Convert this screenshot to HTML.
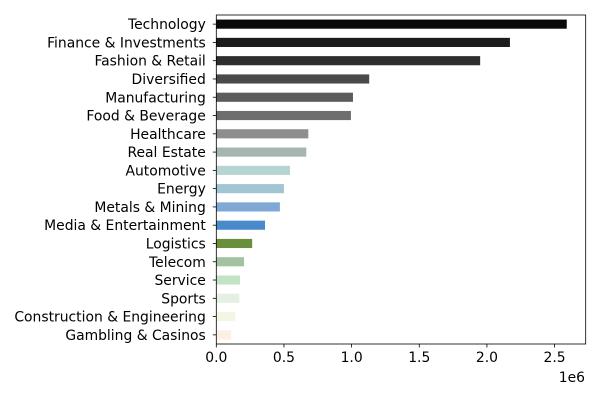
<!DOCTYPE html>
<html><head><meta charset="utf-8"><style>
body{margin:0;background:#fff;}
svg text{font-family:"DejaVu Sans","Liberation Sans",sans-serif;font-size:13.9px;fill:#000;}
</style></head><body>
<svg id="chart" width="600" height="400"></svg>
<script>
const categories=["Technology","Finance & Investments","Fashion & Retail","Diversified","Manufacturing","Food & Beverage","Healthcare","Real Estate","Automotive","Energy","Metals & Mining","Media & Entertainment","Logistics","Telecom","Service","Sports","Construction & Engineering","Gambling & Casinos"];
const values=[2590000,2170000,1950000,1130000,1010000,995000,680000,665000,545000,500000,470000,360000,265000,205000,175000,170000,140000,110000];
const colors=["#0a0a0a","#1c1c1c","#2e2e2e","#4a4a4a","#5c5c5c","#6e6e6e","#8e8e8e","#a6b5b0","#b5d4d2","#a2c5d4","#7ea8d6","#4a8acb","#6a8f3a","#a2c2a2","#c2e4c4","#e4f0e4","#f2f6e4","#fdeee6"];
const xTicks=[0,500000,1000000,1500000,2000000,2500000];
const xTickLabels=["0.0","0.5","1.0","1.5","2.0","2.5"];
const NS="http://www.w3.org/2000/svg";
const svg=document.getElementById('chart');
const L=216.3,R=585.7,T=15,B=344,XMAX=2730000;
const x=v=>L+(v/XMAX)*(R-L);
const step=(B-T)/categories.length;
const y=i=>T+step*(i+0.5);
function mk(t,a){const e=document.createElementNS(NS,t);for(const k in a)e.setAttribute(k,a[k]);svg.appendChild(e);return e;}
categories.forEach((c,i)=>{
 const r=mk('rect',{x:L,y:y(i)-step*0.25,width:x(values[i])-L,height:step*0.5,fill:colors[i]});
 
 
 const tk=mk('line',{x1:L-3.5,x2:L,y1:y(i),y2:y(i),stroke:'#000','stroke-width':0.8});
 
 
 const t=mk('text',{x:L-10.5,y:y(i)+5,'text-anchor':'end'});
 t.textContent=c;
 
 
});
xTicks.forEach((v,i)=>{
 const tk=mk('line',{x1:x(v),x2:x(v),y1:B,y2:B+3.5,stroke:'#000','stroke-width':0.8});
 
 
 const t=mk('text',{x:x(v),y:B+18,'text-anchor':'middle'});
 t.textContent=xTickLabels[i];
 
 
});
const fr=mk('rect',{x:L,y:T,width:R-L,height:B-T,fill:'none',stroke:'#000','stroke-width':0.8});


const ex=mk('text',{x:585,y:382,'text-anchor':'end'});
ex.textContent='1e6';


</script>
</body></html>
